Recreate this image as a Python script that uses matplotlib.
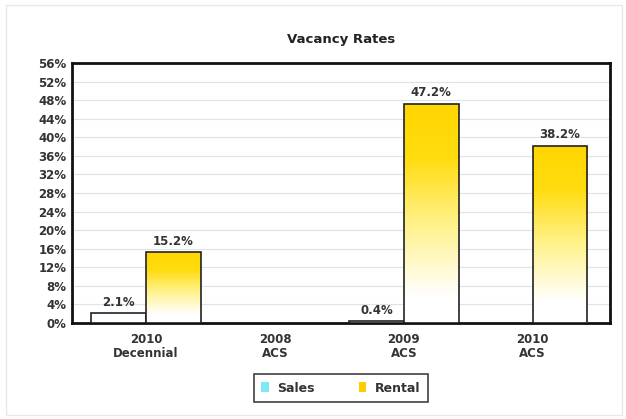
import numpy as np
import matplotlib.pyplot as plt
from matplotlib.patches import Rectangle, Patch
from matplotlib.colors import LinearSegmentedColormap

# 資料
categories = ['2010\nDecennial', '2008\nACS', '2009\nACS', '2010\nACS']
sales = [2.1, None, 0.4, None]
rental = [15.2, None, 47.2, 38.2]
yticks = list(range(0, 57, 4))

plt.rcParams['font.family'] = ['DejaVu Sans']

fig = plt.figure(figsize=(6.26, 4.19), dpi=100)
ax = fig.add_axes([72/626, 1 - 323/419, 538/626, 260/419])

w = 0.425
x = np.arange(len(categories))

# 漸層色 (上金黃, 下白)
grad = np.linspace(0, 1, 256).reshape(-1, 1)
cmap = LinearSegmentedColormap.from_list(
    'gold', [(0, '#ffffff'), (0.12, '#ffffff'), (0.45, '#fff28a'), (0.75, '#ffdc10'), (1, '#ffd600')])

for i, v in enumerate(sales):
    if v is None:
        continue
    r = Rectangle((x[i] - w, 0), w, v, facecolor='#fbfefe', edgecolor='#222222', lw=1.2, zorder=3)
    ax.add_patch(r)
    ax.text(x[i] - w / 2, v + 1.0, f'{v}%', ha='center', va='bottom', fontsize=8.5,
            color='#333333', fontweight='bold', zorder=5)

for i, v in enumerate(rental):
    if v is None:
        continue
    im = ax.imshow(grad, extent=(x[i], x[i] + w, 0, v), origin='lower', cmap=cmap,
                   aspect='auto', zorder=3)
    r = Rectangle((x[i], 0), w, v, facecolor='none', edgecolor='#222222', lw=1.2, zorder=4)
    ax.add_patch(r)
    im.set_clip_path(r)
    ax.text(x[i] + w / 2, v + 1.0, f'{v}%', ha='center', va='bottom', fontsize=8.5,
            color='#333333', fontweight='bold', zorder=5)

ax.set_xlim(-0.575, 3.6)
ax.set_ylim(0, 56)
ax.set_yticks(yticks)
ax.set_yticklabels([f'{t}%' for t in yticks], fontsize=8.5, fontweight='bold', color='#333333')
ax.set_xticks(x)
ax.set_xticklabels(categories, fontsize=8.5, fontweight='bold', color='#333333', linespacing=1.15)
ax.tick_params(axis='y', length=0, pad=4)
ax.tick_params(axis='x', length=0, pad=7)
ax.grid(axis='y', color='#dde3ee', lw=0.8, zorder=0)
ax.set_axisbelow(True)
for s in ax.spines.values():
    s.set_linewidth(2)
    s.set_color('#111111')

fig.text(341/626, 1 - 40/419, 'Vacancy Rates', ha='center', va='center', fontsize=9.5,
         fontweight='bold', color='#222222')

# 外框
fig.patches.append(Rectangle((6/626, 4/419), 616/626, 410/419, transform=fig.transFigure,
                             facecolor='none', edgecolor='#e6e9ee', lw=1))

handles = [Patch(facecolor='#7fe8f5', edgecolor='none', label='Sales'),
           Patch(facecolor='#ffcc00', edgecolor='none', label='Rental')]
leg = fig.legend(handles=handles, loc='center', bbox_to_anchor=(341/626, 1 - 388/419), ncol=2,
                 frameon=True, fancybox=False, handlelength=0.6, handleheight=0.8,
                 columnspacing=3.5, handletextpad=0.7, borderpad=0.6,
                 prop={'size': 9, 'weight': 'bold'})
leg.get_frame().set_edgecolor('#111111')
leg.get_frame().set_linewidth(1.2)
for t in leg.get_texts():
    t.set_color('#333333')

fig.savefig('out.png', dpi=100)
